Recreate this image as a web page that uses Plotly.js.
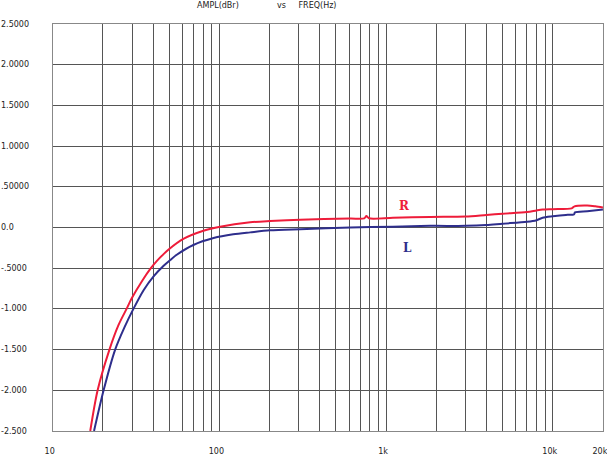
<!DOCTYPE html>
<html>
<head>
<meta charset="utf-8">
<script src="https://cdn.plot.ly/plotly-3.0.1.min.js"></script>
<style>
  html, body { margin: 0; padding: 0; background: #fff; }
  #grafico { width: 607px; height: 456px; }
</style>
</head>
<body>
<div id="grafico"></div>
<script>
// frequency response, values
var freqR = [16.8, 18.6, 21.9, 24.8, 27.9, 29.8, 34.3, 38.8, 42.2, 46.1, 49.6, 60.8, 80.2, 101, 153, 201,
             305, 609, 740, 762, 790, 1100, 1841, 3000, 4000, 5000, 7000, 8000, 8700, 10000, 13000, 13500, 16100, 18000, 20000];
var ampR  = [-2.5, -2.0, -1.5, -1.2, -0.99, -0.87, -0.66, -0.5, -0.41, -0.33, -0.27, -0.14, -0.04, 0.01, 0.064, 0.08,
             0.096, 0.11, 0.113, 0.14, 0.113, 0.12, 0.13, 0.135, 0.155, 0.17, 0.19, 0.21, 0.22, 0.225, 0.235, 0.26, 0.27, 0.26, 0.245];

var freqL = [17.7, 20.2, 23.7, 26.9, 30.5, 35.1, 40.3, 46.3, 50.7, 55.5, 69.8, 92.3, 121, 153, 201,
             305, 609, 1100, 1841, 3000, 4000, 5000, 7000, 8000, 8700, 10000, 12000, 13400, 13600, 16100, 20000];
var ampL  = [-2.5, -2.0, -1.5, -1.23, -1.0, -0.77, -0.60, -0.47, -0.40, -0.335, -0.215, -0.13, -0.084, -0.06, -0.035,
             -0.02, 0.0, 0.01, 0.02, 0.02, 0.03, 0.047, 0.07, 0.09, 0.12, 0.138, 0.155, 0.16, 0.185, 0.2, 0.22];

var yTicks  = [2.5, 2.0, 1.5, 1.0, 0.5, 0.0, -0.5, -1.0, -1.5, -2.0, -2.5];
var yLabels = ['2.5000', '2.0000', '1.5000', '1.0000', '.50000', '0.0', '-.5000', '-1.000', '-1.500', '-2.000', '-2.500'];

var xTicks  = [10, 100, 1000, 10000, 20000];
var xLabels = ['10', '100', '1k', '10k', '20k'];
var gridFreqs = [20, 30, 40, 50, 60, 70, 80, 90,
                 200, 300, 400, 500, 600, 700, 800, 900,
                 2000, 3000, 4000, 5000, 6000, 7000, 8000, 9000];

var labelFont = { family: 'DejaVu Sans', size: 8, color: '#222' };
var nb = '\u00a0';

var traceR = {
  x: freqR, y: ampR, name: 'R', type: 'scatter', mode: 'lines',
  line: { color: '#ee1c3a', width: 2, shape: 'spline', smoothing: 0.8 }
};
var traceL = {
  x: freqL, y: ampL, name: 'L', type: 'scatter', mode: 'lines',
  line: { color: '#2e2e8c', width: 2, shape: 'spline', smoothing: 0.8 }
};

// y tick labels are left aligned in the original, so they go in as annotations
var yLabelNotes = yTicks.map(function (v, i) {
  return { x: 0, xref: 'paper', xanchor: 'left', y: v, yref: 'y', yanchor: 'middle',
           text: yLabels[i], showarrow: false, font: labelFont, xshift: -1 };
});

var layout = {
  width: 607, height: 456,
  margin: { l: 0, r: 4, t: 24, b: 25 },
  paper_bgcolor: '#fff', plot_bgcolor: '#fff',
  showlegend: false,
  title: {
    text: 'AMPL(dBr)' + nb.repeat(15) + 'vs' + nb.repeat(5) + 'FREQ(Hz)',
    font: labelFont,
    xref: 'container', x: 197 / 607, xanchor: 'left',
    yref: 'container', y: 1 - 5 / 456, yanchor: 'middle'
  },
  xaxis: {
    type: 'log', range: [1, 4.3015], domain: [52.7 / 603, 1],
    tickmode: 'array', tickvals: xTicks, ticktext: xLabels,
    tickfont: labelFont, ticks: '', ticklabelstandoff: 12, ticklabelshift: -3,
    ticklabeloverflow: 'allow',
    showgrid: true, gridcolor: '#555', gridwidth: 1,
    minor: { tickmode: 'array', tickvals: gridFreqs, showgrid: true, gridcolor: '#555', gridwidth: 1, ticks: '' },
    showline: true, mirror: true, linecolor: '#888', linewidth: 1,
    zeroline: false, fixedrange: true
  },
  yaxis: {
    range: [-2.5, 2.5], tickmode: 'array', tickvals: yTicks,
    showticklabels: false, ticks: '',
    showgrid: true, gridcolor: '#555', gridwidth: 1,
    showline: true, mirror: true, linecolor: '#888', linewidth: 1,
    zeroline: false, fixedrange: true
  },
  annotations: yLabelNotes.concat([
    { x: 3.1086, y: 0.264, xref: 'x', yref: 'y', text: '<b>R</b>', showarrow: false,
      font: { family: 'DejaVu Serif', size: 12, color: '#ee1c3a' } },
    { x: 3.1267, y: -0.252, xref: 'x', yref: 'y', text: '<b>L</b>', showarrow: false,
      font: { family: 'DejaVu Serif', size: 12, color: '#2e2e8c' } }
  ])
};

Plotly.newPlot('grafico', [traceL, traceR], layout, { staticPlot: true, displayModeBar: false });
</script>
</body>
</html>
